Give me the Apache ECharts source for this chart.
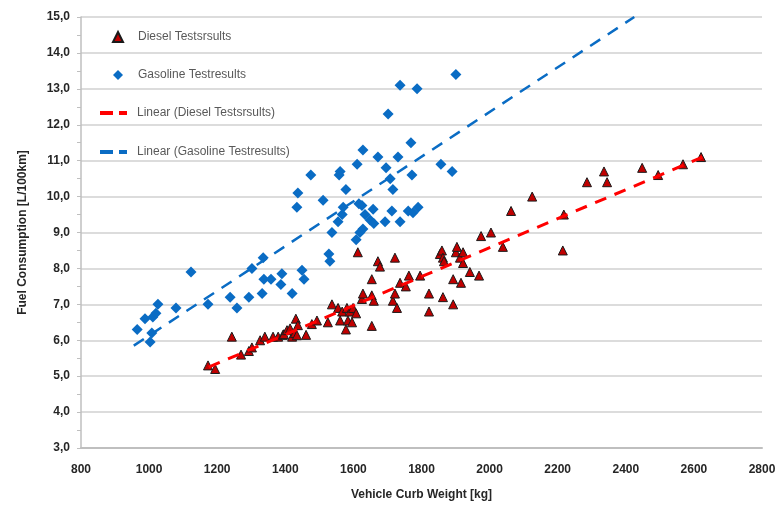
<!DOCTYPE html>
<html>
<head>
<meta charset="utf-8">
<script src="https://cdn.jsdelivr.net/npm/echarts@6/dist/echarts.min.js"></script>
<style>
html, body { margin: 0; padding: 0; background: #fff; }
#chart { width: 780px; height: 510px; }
</style>
</head>
<body>
<div id="chart"></div>
<script>
// values (kg, L/100km)
const dieselWeight = [1173, 1194, 1243, 1270, 1293, 1302, 1326, 1340, 1364, 1379, 1393, 1396, 1405, 1414, 1420, 1428, 1431, 1434, 1437,
    1461, 1478, 1493, 1525, 1537, 1555, 1561, 1567, 1578, 1581, 1584, 1590, 1596, 1599, 1608, 1613, 1625, 1628, 1654, 1654, 1654,
    1660, 1672, 1678, 1716, 1722, 1722, 1728, 1737, 1754, 1763, 1796, 1822, 1822, 1854, 1860, 1863, 1863, 1866, 1893, 1893, 1901,
    1904, 1913, 1916, 1922, 1922, 1942, 1969, 1975, 2004, 2039, 2063, 2125, 2215, 2218, 2286, 2336, 2345, 2448, 2495, 2568, 2621];
const dieselFuel = [5.3, 5.2, 6.1, 5.6, 5.7, 5.8, 6.0, 6.1, 6.1, 6.1, 6.15, 6.17, 6.28, 6.33, 6.1, 6.2, 6.6, 6.14, 6.42,
    6.15, 6.45, 6.55, 6.5, 7.0, 6.9, 6.55, 6.8, 6.3, 6.9, 6.55, 6.8, 6.5, 6.9, 6.75, 8.45, 7.15, 7.3, 7.25, 6.4, 7.7,
    7.1, 8.2, 8.05, 7.1, 7.3, 8.3, 6.9, 7.6, 7.5, 7.8, 7.8, 7.3, 6.8, 8.4, 8.5, 8.3, 7.2, 8.2, 7.7, 7.0, 8.45,
    8.6, 8.3, 7.6, 8.45, 8.15, 7.9, 7.8, 8.9, 9.0, 8.6, 9.6, 10.0, 8.5, 9.5, 10.4, 10.7, 10.4, 10.8, 10.6, 10.9, 11.1];

const gasWeight = [965, 988, 1003, 1008, 1011, 1020, 1026, 1079, 1123, 1173, 1238, 1258, 1293, 1302, 1332, 1335, 1337, 1358,
    1387, 1390, 1420, 1434, 1437, 1449, 1455, 1475, 1511, 1528, 1531, 1537, 1555, 1558, 1561, 1567, 1570, 1578, 1608,
    1611, 1616, 1619, 1625, 1628, 1628, 1634, 1649, 1658, 1660, 1672, 1693, 1696, 1702, 1708, 1713, 1716, 1731, 1737,
    1737, 1761, 1769, 1772, 1775, 1787, 1790, 1857, 1890, 1901];
const gasFuel = [6.3, 6.6, 5.95, 6.2, 6.65, 6.75, 7.0, 6.9, 7.9, 7.0, 7.2, 6.9, 7.2, 8.0, 7.3, 8.3, 7.7, 7.7,
    7.55, 7.85, 7.3, 9.7, 10.1, 7.95, 7.7, 10.6, 9.9, 8.4, 8.2, 9.0, 9.3, 10.6, 10.7, 9.5, 9.7, 10.2, 8.8,
    10.9, 9.8, 9.0, 9.75, 9.1, 11.3, 9.5, 9.35, 9.65, 9.25, 11.1, 9.3, 10.8, 12.3, 10.5, 9.6, 10.2, 11.1, 9.3,
    13.1, 9.6, 11.5, 10.6, 9.55, 13.0, 9.7, 10.9, 10.7, 13.4];

// trend line end points as drawn
const dieselTrendWeight = [1175, 2625];
const dieselTrendFuel = [5.25, 11.1];
const gasTrendWeight = [955, 2425];
const gasTrendFuel = [5.85, 15.0];

const seriesNames = ['Diesel Testsrsults', 'Gasoline Testresults', 'Linear (Diesel Testsrsults)', 'Linear (Gasoline Testresults)'];

const FONT = '"Liberation Sans", Arial, sans-serif';
const DASH_ICON = 'path://M0,0H13V4H0Z M19,0H27V4H19Z';

function pairs(xs, ys) {
    return xs.map((x, i) => [x, ys[i]]);
}

function initChart() {
    const chart = echarts.init(document.getElementById('chart'));
    const legendText = { color: '#595959', fontSize: 12, fontFamily: FONT };

    chart.setOption({
        animation: false,
        backgroundColor: '#fff',
        textStyle: { fontFamily: FONT },
        grid: { left: 81, right: 18, top: 17, bottom: 62 },
        legend: [
            {
                data: seriesNames.slice(0, 2),
                orient: 'vertical',
                left: 107,
                top: 26,
                itemWidth: 10,
                itemHeight: 10,
                itemGap: 26,
                textStyle: Object.assign({ padding: [0, 0, 0, 10] }, legendText)
            },
            {
                data: seriesNames.slice(2).map(n => ({ name: n, icon: DASH_ICON })),
                orient: 'vertical',
                left: 95,
                top: 102,
                itemWidth: 27,
                itemHeight: 4,
                itemGap: 27,
                textStyle: Object.assign({ padding: [0, 0, 0, 5] }, legendText)
            }
        ],
        xAxis: {
            type: 'value',
            min: 800,
            max: 2800,
            interval: 200,
            name: 'Vehicle Curb Weight [kg]',
            nameLocation: 'middle',
            nameGap: 41,
            nameTextStyle: { fontWeight: 'bold', fontSize: 12, color: '#262626' },
            axisLine: { lineStyle: { color: '#bfbfbf', width: 2 } },
            axisTick: { show: false },
            splitLine: { show: false },
            axisLabel: { margin: 16, fontWeight: 'bold', fontSize: 12, color: '#262626', formatter: v => String(v) }
        },
        yAxis: {
            type: 'value',
            min: 3,
            max: 15,
            interval: 1,
            name: 'Fuel Consumption [L/100km]',
            nameLocation: 'middle',
            nameGap: 52,
            nameTextStyle: { fontWeight: 'bold', fontSize: 12, color: '#262626' },
            axisLine: { show: true, lineStyle: { color: '#bfbfbf', width: 1.5 } },
            axisTick: { show: true, length: 4, lineStyle: { color: '#bfbfbf' } },
            minorTick: { show: true, splitNumber: 2, length: 4, lineStyle: { color: '#bfbfbf' } },
            splitLine: { lineStyle: { color: '#dcdcdc', width: 2 } },
            axisLabel: {
                margin: 11,
                fontWeight: 'bold',
                fontSize: 12,
                color: '#262626',
                formatter: v => v.toFixed(1).replace('.', ',')
            }
        },
        series: [
            {
                name: seriesNames[0],
                type: 'scatter',
                symbol: 'triangle',
                symbolSize: 9,
                itemStyle: { color: '#c00000', borderColor: '#1a1a1a', borderWidth: 1, opacity: 1 },
                data: pairs(dieselWeight, dieselFuel),
                z: 2
            },
            {
                name: seriesNames[1],
                type: 'scatter',
                symbol: 'diamond',
                symbolSize: 11,
                itemStyle: { color: '#0a6cc4', opacity: 1 },
                data: pairs(gasWeight, gasFuel),
                z: 2
            },
            {
                name: seriesNames[2],
                type: 'line',
                symbol: 'none',
                lineStyle: { color: '#ff0000', width: 3, type: [12, 9] },
                itemStyle: { color: '#ff0000' },
                data: pairs(dieselTrendWeight, dieselTrendFuel),
                z: 3
            },
            {
                name: seriesNames[3],
                type: 'line',
                symbol: 'none',
                lineStyle: { color: '#0a6cc4', width: 2.5, type: [12, 9] },
                itemStyle: { color: '#0a6cc4' },
                data: pairs(gasTrendWeight, gasTrendFuel),
                z: 3
            }
        ]
    });
}

initChart();
</script>
</body>
</html>
